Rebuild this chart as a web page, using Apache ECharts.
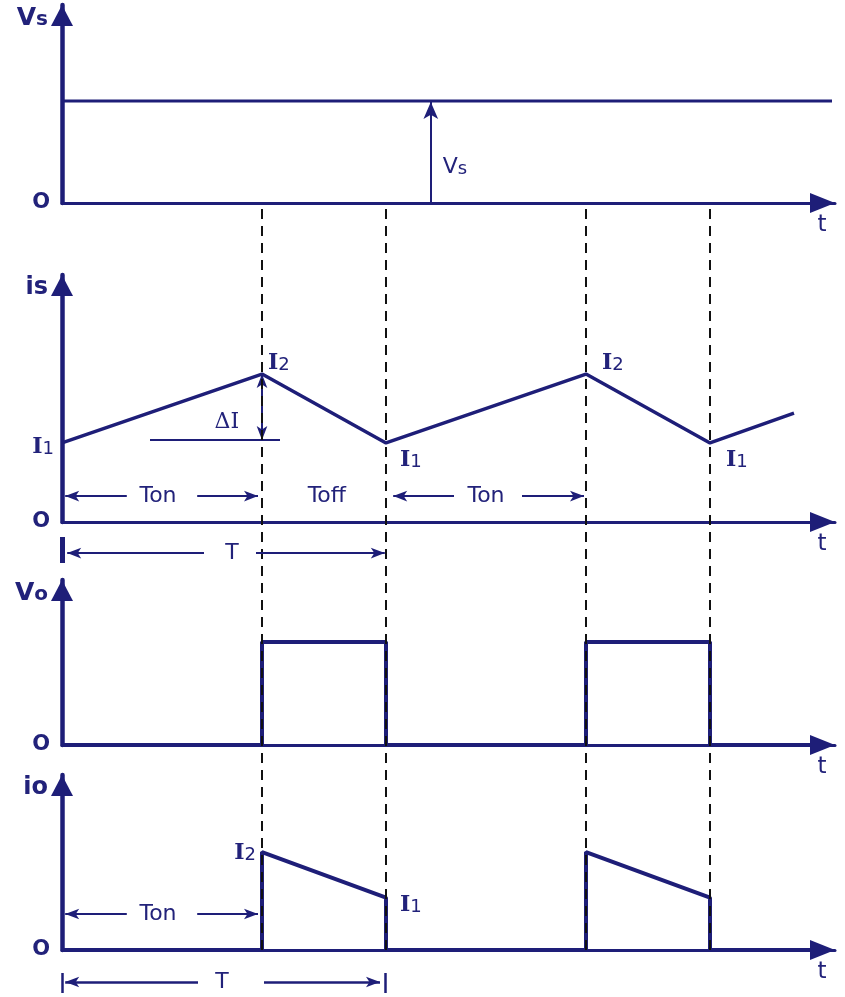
<!DOCTYPE html>
<html>
<head>
<meta charset="utf-8">
<script src="https://cdn.jsdelivr.net/npm/echarts@6/dist/echarts.min.js"></script>
<style>
html,body{margin:0;padding:0;background:#fff;}
#c{width:845px;height:997px;}
</style>
</head>
<body>
<div id="c"></div>
<script>
// ---------- data ----------
const xMax = 19.325;                 // time axis extent (arbitrary units)
const switchTimes = [5, 8.1, 13.1, 16.2];   // switch-on / switch-off instants
const tVs = [0, 19.25];
const vsVals = [5.15, 5.15];
const tIs = [0, 5, 8.1, 13.1, 16.2, 18.3];
const isVals = [3.2, 5.99, 3.2, 5.99, 3.2, 4.41];
const tVo = [0, 5, 5, 8.1, 8.1, 13.1, 13.1, 16.2, 16.2, 19.0];
const voVals = [0, 0, 6.24, 6.24, 0, 0, 6.24, 6.24, 0, 0];
const tIo = [0, 5, 5, 8.1, 8.1, 13.1, 13.1, 16.2, 16.2, 19.0];
const ioVals = [0, 0, 5.99, 3.2, 0, 0, 5.99, 3.2, 0, 0];
const yMax = [10, 10, 10, 10.7];
const axisNames = ['{a|V}{b|s}', '{c|is}', '{a|V}{b|o}', '{c|io}'];
const zeroLabel = 'O';
const xName = 't';

// ---------- style ----------
const NAVY = '#1e1e78';
const TXT = '#22227a';
const SANS = 'DejaVu Sans';
const SERIF = 'DejaVu Serif';

const panelGrids = [
  {left: 62, right: 10, top: 5, height: 198},
  {left: 62, right: 10, top: 275, height: 247},
  {left: 62, right: 10, top: 580, height: 165},
  {left: 62, right: 10, top: 775, height: 175}
];
const extraGrids = [
  {left: 62, right: 10, top: 205, height: 745},   // dashed guides
  {left: 62, right: 10, top: 537, height: 26},    // T row (is)
  {left: 62, right: 10, top: 973, height: 20}     // T row (io)
];

const xAxes = [], yAxes = [];
panelGrids.forEach((g, i) => {
  xAxes.push({
    type: 'value', gridIndex: i, min: 0, max: xMax,
    axisLine: {show: true, lineStyle: {color: NAVY, width: 3}, symbol: ['none', 'triangle'], symbolSize: [20, 25], symbolOffset: [0, -12.5]},
    axisTick: {show: false}, axisLabel: {show: false}, splitLine: {show: false},
    name: xName, nameLocation: 'end', nameGap: -13,
    nameTextStyle: {color: TXT, fontSize: 23, fontFamily: SANS, align: 'center', verticalAlign: 'top', padding: [11, 0, 0, 0]}
  });
  yAxes.push({
    type: 'value', gridIndex: i, min: 0, max: yMax[i],
    axisLine: {show: true, lineStyle: {color: NAVY, width: 4.5}, symbol: ['none', 'triangle'], symbolSize: [22, 21], symbolOffset: [0, -10.5]},
    axisTick: {show: false}, splitLine: {show: false},
    axisLabel: {formatter: v => (v === 0 ? zeroLabel : ''), margin: 12, color: TXT, fontSize: 21, fontWeight: 'bold', fontFamily: SANS},
    name: axisNames[i], nameLocation: 'end', nameGap: -13,
    nameTextStyle: {align: 'right', verticalAlign: 'middle', padding: [0, 14, 0, 0],
      rich: {
        a: {fontSize: 25, fontWeight: 'bold', color: TXT, fontFamily: SANS},
        b: {fontSize: 20, fontWeight: 'bold', color: TXT, fontFamily: SANS, padding: [4, 0, 0, 0]},
        c: {fontSize: 24, fontWeight: 'bold', color: TXT, fontFamily: SANS}
      }}
  });
});
extraGrids.forEach((g, k) => {
  const gi = panelGrids.length + k;
  xAxes.push({type: 'value', gridIndex: gi, min: 0, max: xMax, show: false});
  yAxes.push({type: 'value', gridIndex: gi, min: 0, max: 1, show: false});
});

const zip = (a, b) => a.map((v, i) => [v, b[i]]);

const richI = {
  i: {fontFamily: SERIF, fontSize: 22, color: TXT, fontWeight: 'bold'},
  n: {fontFamily: SANS, fontSize: 18, color: TXT, padding: [5, 0, 0, 0]},
  t: {fontFamily: SANS, fontSize: 22, color: TXT},
  d: {fontFamily: SERIF, fontSize: 22, color: TXT}
};
function textSeries(idx, items) {
  return {
    type: 'scatter', xAxisIndex: idx, yAxisIndex: idx, symbolSize: 0, clip: false, silent: true, z: 6,
    itemStyle: {opacity: 1},
    data: items.map(it => ({
      value: it.v,
      label: {show: true, formatter: it.t, position: it.p || 'inside', distance: it.d == null ? 0 : it.d,
        fontSize: 20, color: TXT, fontFamily: SANS, opacity: 1, rich: richI}
    }))
  };
}
function arrowLine(pairs, opts) {
  return {
    silent: true, animation: false,
    symbol: opts.symbol, symbolSize: opts.size || [8, 14],
    label: {show: false},
    lineStyle: {color: opts.color || NAVY, width: opts.width || 2, type: 'solid'},
    emphasis: {disabled: true},
    data: pairs.map(p => [{coord: p[0], symbol: p[2] || opts.symbol[0]}, {coord: p[1], symbol: p[3] || opts.symbol[1]}])
  };
}
const lineBase = {type: 'line', symbol: 'none', silent: true, animation: false, z: 4};

const option = {
  animation: false,
  backgroundColor: '#ffffff',
  grid: panelGrids.concat(extraGrids),
  xAxis: xAxes,
  yAxis: yAxes,
  series: [
    // Vs panel
    Object.assign({}, lineBase, {
      name: 'Vs', xAxisIndex: 0, yAxisIndex: 0, data: zip(tVs, vsVals),
      lineStyle: {color: NAVY, width: 3},
      markLine: arrowLine([[[9.22, 0], [9.22, 5.1], 'none', 'arrow']], {symbol: ['none', 'arrow'], size: [11, 17], width: 2})
    }),
    textSeries(0, [{v: [9.22, 1.82], t: '{t|V}{n|s}', p: 'right', d: 12}]),
    // is panel
    Object.assign({}, lineBase, {
      name: 'is', xAxisIndex: 1, yAxisIndex: 1, data: zip(tIs, isVals),
      lineStyle: {color: NAVY, width: 3.5},
      markLine: arrowLine([
        [[0.08, 1.05], [1.62, 1.05], 'arrow', 'none'],
        [[3.38, 1.05], [4.9, 1.05], 'none', 'arrow'],
        [[8.28, 1.05], [9.8, 1.05], 'arrow', 'none'],
        [[11.5, 1.05], [13.05, 1.05], 'none', 'arrow'],
        [[5, 3.32], [5, 5.99], 'arrow', 'arrow'],
        [[2.2, 3.32], [5.45, 3.32], 'none', 'none']
      ], {symbol: ['arrow', 'arrow']})
    }),
    textSeries(1, [
      {v: [0, 3.04], t: '{i|I}{n|1}', p: 'left', d: 8},
      {v: [5.15, 6.44], t: '{i|I}{n|2}', p: 'right', d: 0},
      {v: [8.45, 2.51], t: '{i|I}{n|1}', p: 'right', d: 0},
      {v: [13.5, 6.44], t: '{i|I}{n|2}', p: 'right', d: 0},
      {v: [16.6, 2.51], t: '{i|I}{n|1}', p: 'right', d: 0},
      {v: [4.12, 4.05], t: '{d|ΔI}'},
      {v: [2.4, 1.05], t: '{t|Ton}'},
      {v: [6.62, 1.05], t: '{t|Toff}'},
      {v: [10.6, 1.05], t: '{t|Ton}'}
    ]),
    // Vo panel
    Object.assign({}, lineBase, {
      name: 'Vo', xAxisIndex: 2, yAxisIndex: 2, data: zip(tVo, voVals),
      lineStyle: {color: NAVY, width: 4}
    }),
    // io panel
    Object.assign({}, lineBase, {
      name: 'io', xAxisIndex: 3, yAxisIndex: 3, data: zip(tIo, ioVals),
      lineStyle: {color: NAVY, width: 4},
      markLine: arrowLine([
        [[0.08, 2.2], [1.62, 2.2], 'arrow', 'none'],
        [[3.38, 2.2], [4.9, 2.2], 'none', 'arrow']
      ], {symbol: ['arrow', 'arrow']})
    }),
    textSeries(3, [
      {v: [5, 5.93], t: '{i|I}{n|2}', p: 'left', d: 6},
      {v: [8.45, 2.75], t: '{i|I}{n|1}', p: 'right', d: 0},
      {v: [2.4, 2.2], t: '{t|Ton}'}
    ]),
    // dashed guides
    {
      type: 'line', xAxisIndex: 4, yAxisIndex: 4, data: [], silent: true, z: 1,
      markLine: {
        silent: true, symbol: ['none', 'none'], label: {show: false},
        lineStyle: {color: '#111', width: 2, type: [10, 7]},
        data: switchTimes.map(t => ({xAxis: t}))
      }
    },
    // T row under is
    {
      type: 'line', xAxisIndex: 5, yAxisIndex: 5, data: [], silent: true, z: 4,
      markLine: arrowLine([
        [[0.13, 0.38], [3.55, 0.38], 'arrow', 'none'],
        [[4.85, 0.38], [8.07, 0.38], 'none', 'arrow']
      ], {symbol: ['arrow', 'arrow']})
    },
    {
      type: 'line', xAxisIndex: 5, yAxisIndex: 5, data: [], silent: true, z: 4,
      markLine: arrowLine([[[0, 0], [0, 1], 'none', 'none']], {symbol: ['none', 'none'], width: 5})
    },
    textSeries(5, [{v: [4.25, 0.38], t: '{t|T}'}]),
    // T row under io
    {
      type: 'line', xAxisIndex: 6, yAxisIndex: 6, data: [], silent: true, z: 4,
      markLine: arrowLine([
        [[0.08, 0.55], [3.4, 0.55], 'arrow', 'none'],
        [[5.05, 0.55], [7.95, 0.55], 'none', 'arrow'],
        [[0, 0], [0, 1], 'none', 'none'],
        [[8.08, 0], [8.08, 1], 'none', 'none']
      ], {symbol: ['arrow', 'arrow'], width: 2.5})
    },
    textSeries(6, [{v: [4.0, 0.55], t: '{t|T}'}])
  ]
};

const chart = echarts.init(document.getElementById('c'), null, {renderer: 'canvas'});
chart.setOption(option);
</script>
</body>
</html>
